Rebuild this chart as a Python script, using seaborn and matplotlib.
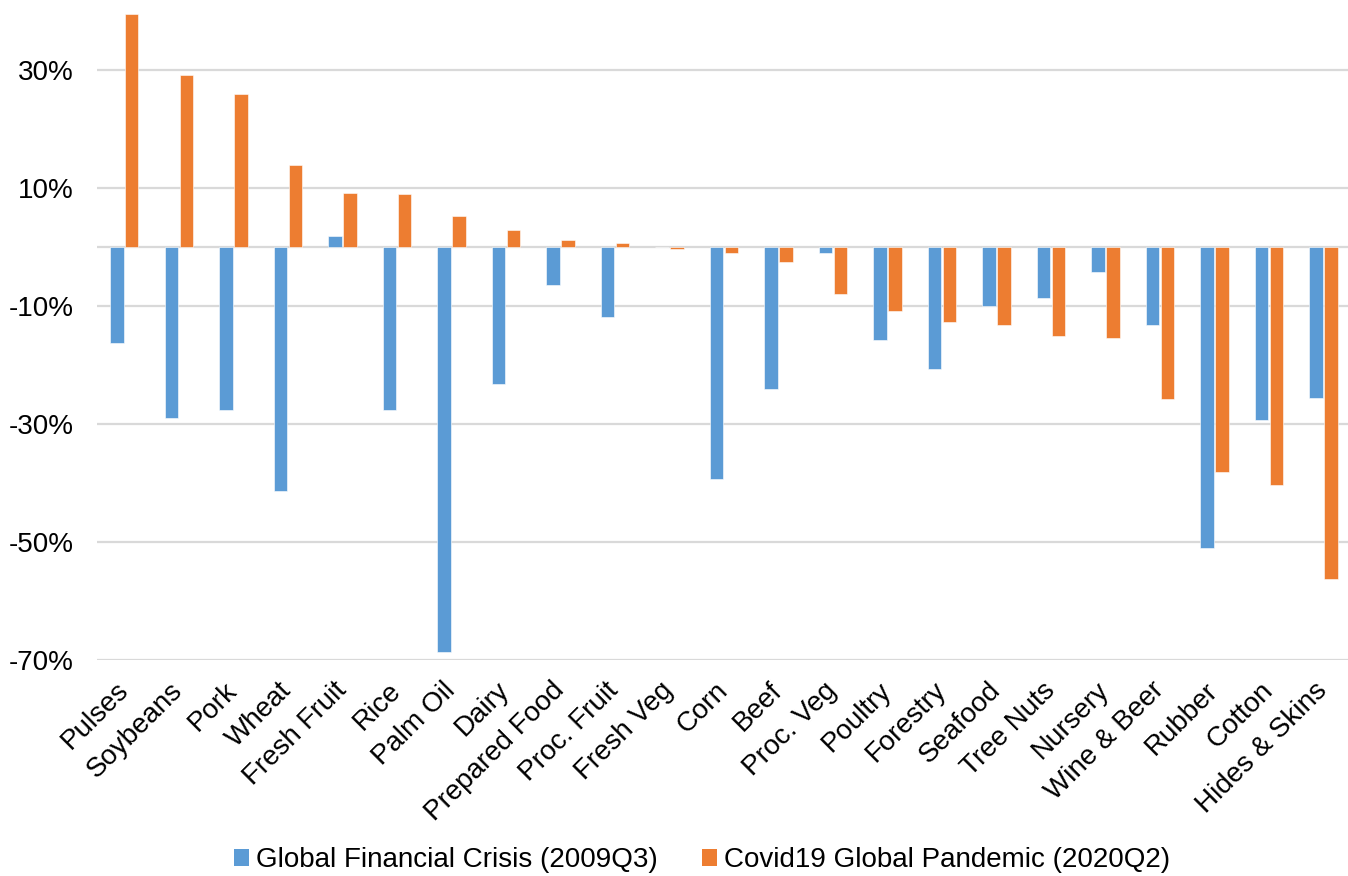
import matplotlib
matplotlib.use("Agg")
import matplotlib.pyplot as plt
from matplotlib.patches import Patch
import seaborn as sns
import pandas as pd

categories = ["Pulses", "Soybeans", "Pork", "Wheat", "Fresh Fruit", "Rice", "Palm Oil",
              "Dairy", "Prepared Food", "Proc. Fruit", "Fresh Veg", "Corn", "Beef",
              "Proc. Veg", "Poultry", "Forestry", "Seafood", "Tree Nuts", "Nursery",
              "Wine & Beer", "Rubber", "Cotton", "Hides & Skins"]

gfc_2009q3 = [-16.2, -28.9, -27.6, -41.4, 1.9, -27.7, -68.6, -23.2, -6.4, -11.9, 0.0,
              -39.3, -24.0, -1.1, -15.7, -20.7, -10.0, -8.6, -4.2, -13.2, -51.1, -29.4,
              -25.6]

covid_2020q2 = [39.5, 29.2, 25.9, 13.9, 9.2, 9.0, 5.2, 2.8, 1.2, 0.6, -0.4, -1.0, -2.5,
                -7.9, -10.8, -12.7, -13.3, -15.0, -15.4, -25.7, -38.1, -40.3, -56.2]

series_names = ["Global Financial Crisis (2009Q3)", "Covid19 Global Pandemic (2020Q2)"]
colors = ["#5B9BD5", "#ED7D31"]
yticks = [-70, -50, -30, -10, 10, 30]

df = pd.DataFrame({
    "category": categories * 2,
    "value": gfc_2009q3 + covid_2020q2,
    "series": [series_names[0]] * len(categories) + [series_names[1]] * len(categories),
})

sns.set_theme(style="white")
plt.rcParams["font.family"] = ["Liberation Sans", "DejaVu Sans"]

fig = plt.figure(figsize=(13.48, 8.76), dpi=100)
ax = fig.add_axes([97 / 1348, (876 - 660) / 876, 1 - 97 / 1348 + 0.002, 649 / 876])

sns.barplot(data=df, x="category", y="value", hue="series", order=categories,
            hue_order=series_names, palette=colors, saturation=1, width=0.55, gap=0.1,
            edgecolor="white", linewidth=0.4, legend=False, ax=ax, zorder=3)

ax.set_ylim(-70, 40)
ax.set_xlim(-0.5, len(categories) - 0.5)
ax.set_yticks(yticks)
ax.set_yticklabels([f"{v}%" for v in yticks])
ax.yaxis.grid(True, color="#D9D9D9", linewidth=1.6, zorder=0)
ax.axhline(0, color="#D9D9D9", linewidth=1.6, zorder=2)
ax.set_axisbelow(True)
for s in ax.spines.values():
    s.set_visible(False)
ax.set_xlabel("")
ax.set_ylabel("")
ax.tick_params(axis="y", length=0, pad=17, labelsize=20, colors="black")
ax.tick_params(axis="x", length=0, pad=19, labelsize=20, colors="black")
for lab in ax.get_xticklabels():
    lab.set_rotation(45)
    lab.set_ha("right")
    lab.set_va("center")
    lab.set_rotation_mode("anchor")

handles = [Patch(facecolor=c, edgecolor="none") for c in colors]
fig.legend(handles, series_names, loc="center", bbox_to_anchor=(702 / 1348, 1 - 860 / 876),
           ncol=2, frameon=False, fontsize=20, labelcolor="black", handlelength=0.55,
           handleheight=0.55, handletextpad=0.25, columnspacing=1.6, borderaxespad=0)

fig.savefig("out.png", dpi=100, facecolor="white")
